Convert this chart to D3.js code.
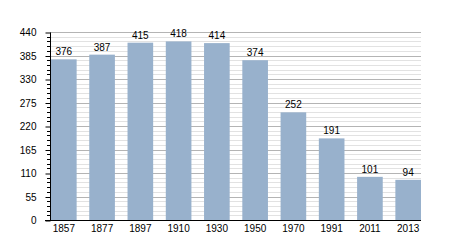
<!DOCTYPE html>
<html>
<head>
<meta charset="utf-8">
<script src="https://cdn.jsdelivr.net/npm/d3@7"></script>
<style>
  body { margin: 0; background: #fff; }
  text { font-family: "Liberation Sans", Arial, sans-serif; font-size: 10px; fill: #000; }
</style>
</head>
<body>
<div id="chart"></div>
<script>
var years = ["1857", "1877", "1897", "1910", "1930", "1950", "1970", "1991", "2011", "2013"];
var population = [376, 387, 415, 418, 414, 374, 252, 191, 101, 94];
var majorTicks = [0, 55, 110, 165, 220, 275, 330, 385, 440];

var width = 450, height = 250;
var plotLeft = 50, plotRight = 421, plotTop = 32, plotBottom = 220;

var svg = d3.select("#chart")
  .append("svg")
    .attr("width", width)
    .attr("height", height);

var x = d3.scaleBand()
    .domain(years)
    .range([plotLeft + 1, plotRight])
    .paddingInner(0.33)
    .paddingOuter(0);

var y = d3.scaleLinear()
    .domain([0, 440])
    .range([plotBottom, plotTop]);

// minor grid every 11
var minor = d3.range(0, 441, 11).filter(function(v) { return v % 55 != 0; });
svg.append("g")
  .selectAll("line")
  .data(minor)
  .enter()
  .append("line")
    .attr("x1", plotLeft).attr("x2", plotRight)
    .attr("y1", function(d) { return Math.round(y(d)) + 0.5; })
    .attr("y2", function(d) { return Math.round(y(d)) + 0.5; })
    .style("stroke", "#e2e2e2");

// major grid
svg.append("g")
  .selectAll("line")
  .data(majorTicks.slice(1))
  .enter()
  .append("line")
    .attr("x1", plotLeft).attr("x2", plotRight)
    .attr("y1", function(d) { return Math.round(y(d)) + 0.5; })
    .attr("y2", function(d) { return Math.round(y(d)) + 0.5; })
    .style("stroke", "#b4b4b4");

// bars
svg.append("g")
  .selectAll("rect")
  .data(population)
  .enter()
  .append("rect")
    .attr("x", function(d, i) { return x(years[i]); })
    .attr("y", function(d) { return y(d); })
    .attr("width", x.bandwidth())
    .attr("height", function(d) { return plotBottom - y(d); })
    .attr("fill", "#98b1cc");

// value labels
svg.append("g")
  .selectAll("text")
  .data(population)
  .enter()
  .append("text")
    .attr("x", function(d, i) { return x(years[i]) + x.bandwidth() / 2; })
    .attr("y", function(d) { return y(d) - 4; })
    .attr("text-anchor", "middle")
    .text(function(d) { return d; });

// y axis minor ticks
svg.append("g")
  .selectAll("line")
  .data(minor)
  .enter()
  .append("line")
    .attr("x1", plotLeft - 3).attr("x2", plotLeft)
    .attr("y1", function(d) { return Math.round(y(d)) + 0.5; })
    .attr("y2", function(d) { return Math.round(y(d)) + 0.5; })
    .style("stroke", "#000");

var yAxis = svg.append("g")
    .attr("transform", "translate(" + (plotLeft + 0.5) + ",0.5)")
    .call(d3.axisLeft(y).tickValues(majorTicks).tickSize(5).tickPadding(9));
yAxis.select(".domain").attr("d", "M0," + plotTop + "V" + plotBottom);
yAxis.selectAll("text").style("font-size", "10px").style("font-family", null);
yAxis.selectAll("line").style("stroke", "#000");

var xAxis = svg.append("g")
    .attr("transform", "translate(0," + (plotBottom + 0.5) + ")")
    .call(d3.axisBottom(x).tickSize(0).tickPadding(4));
xAxis.select(".domain").attr("d", "M" + (plotLeft - 5) + ",0H" + plotRight).style("stroke", "#000");
xAxis.selectAll("text").style("font-size", "10px").style("font-family", null);
</script>
</body>
</html>
